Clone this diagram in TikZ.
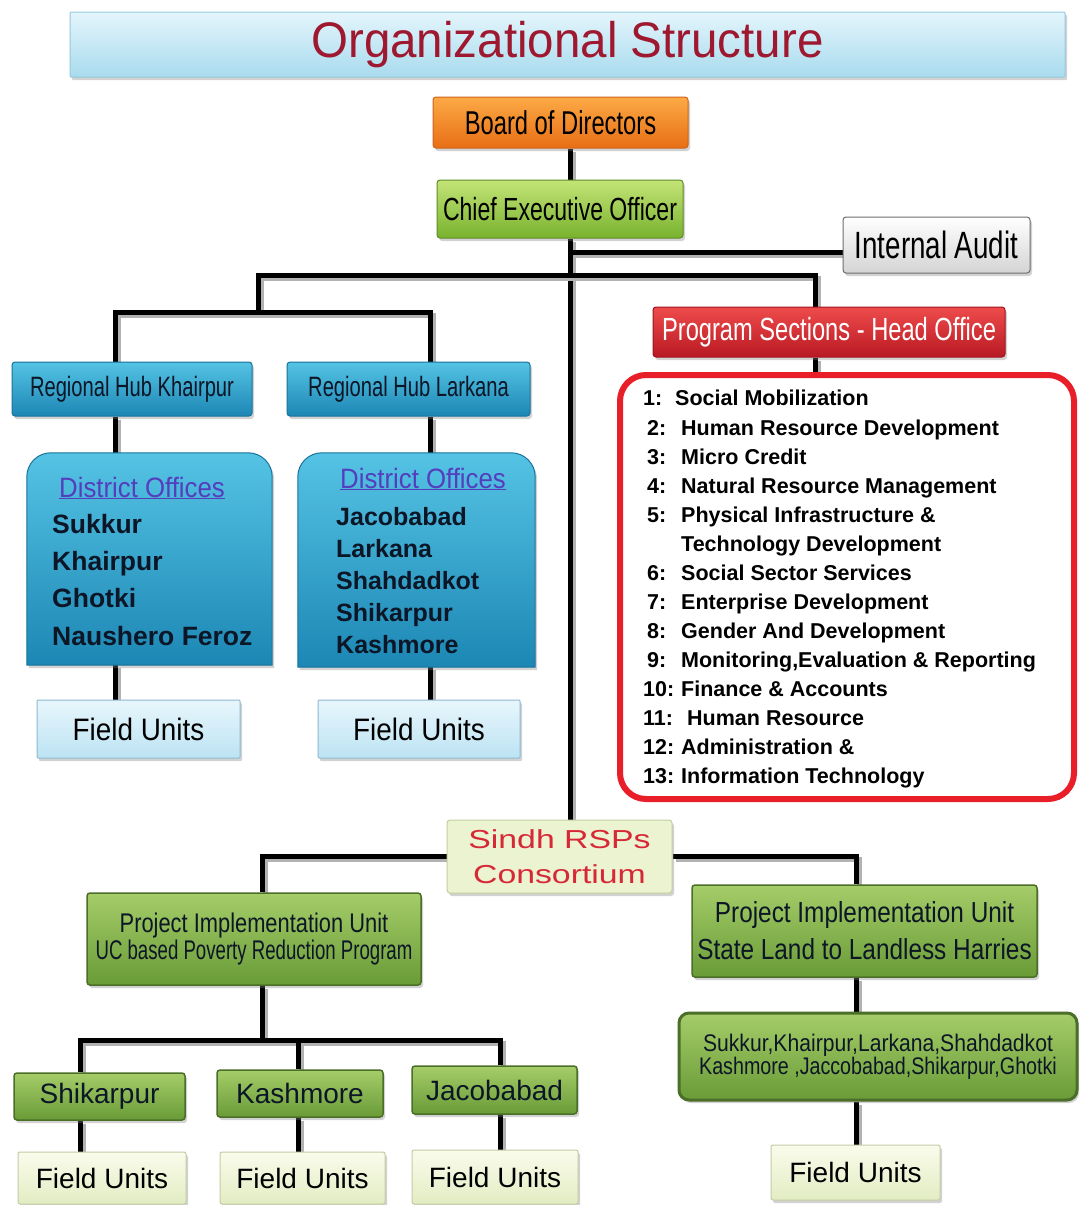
\documentclass[tikz,border=0pt]{standalone}
\usepackage{fontspec}
\setmainfont{Liberation Sans}
\usetikzlibrary{shadows,calc,backgrounds}
\newcommand\cf[3]{\fontspec[FakeStretch=#1]{Liberation Sans}\fontsize{#2pt}{#3pt}\selectfont}
\definecolor{titleTop}{RGB}{228,245,252}
\definecolor{titleBot}{RGB}{168,219,238}
\definecolor{titleLine}{RGB}{150,200,222}
\definecolor{titleTxt}{RGB}{158,24,48}
\definecolor{orTop}{RGB}{252,170,70}
\definecolor{orBot}{RGB}{232,110,20}
\definecolor{orLine}{RGB}{205,100,30}
\definecolor{grTop}{RGB}{196,228,120}
\definecolor{grBot}{RGB}{120,178,45}
\definecolor{grLine}{RGB}{95,140,40}
\definecolor{olTop}{RGB}{165,205,105}
\definecolor{olBot}{RGB}{105,155,55}
\definecolor{olLine}{RGB}{75,110,40}
\definecolor{blTop}{RGB}{85,195,228}
\definecolor{blBot}{RGB}{28,135,180}
\definecolor{blLine}{RGB}{25,115,155}
\definecolor{fuTop}{RGB}{232,246,252}
\definecolor{fuBot}{RGB}{188,227,243}
\definecolor{fuLine}{RGB}{140,185,210}
\definecolor{fgTop}{RGB}{250,252,236}
\definecolor{fgBot}{RGB}{226,236,194}
\definecolor{fgLine}{RGB}{195,205,165}
\definecolor{rdTop}{RGB}{238,75,75}
\definecolor{rdBot}{RGB}{185,25,35}
\definecolor{rdLine}{RGB}{160,20,30}
\definecolor{frameRed}{RGB}{232,30,40}
\definecolor{iaBot}{RGB}{212,212,212}
\definecolor{iaLine}{RGB}{110,110,110}
\definecolor{doTxt}{RGB}{85,62,190}
\definecolor{sinTxt}{RGB}{215,40,55}
\definecolor{sinFill}{RGB}{236,243,208}
\definecolor{sinLine}{RGB}{196,206,160}
\definecolor{navy}{RGB}{12,22,38}
\begin{document}
\begin{tikzpicture}[x=1pt,y=-1pt,
  box/.style={rectangle, inner sep=0pt, align=center, line width=1pt, rounded corners=3pt,
    drop shadow={shadow xshift=2pt, shadow yshift=-3pt, opacity=0.35}},
  sz/.style 2 args={minimum width=#1pt, minimum height=#2pt},
  titlebox/.style={box, top color=titleTop, bottom color=titleBot, draw=titleLine, rounded corners=1pt},
  orbox/.style={box, top color=orTop, bottom color=orBot, draw=orLine},
  grbox/.style={box, top color=grTop, bottom color=grBot, draw=grLine},
  olbox/.style={box, top color=olTop, bottom color=olBot, draw=olLine, line width=1.5pt},
  blbox/.style={box, top color=blTop, bottom color=blBot, draw=blLine},
  iabox/.style={box, top color=white, bottom color=iaBot, draw=iaLine},
  rdbox/.style={box, top color=rdTop, bottom color=rdBot, draw=rdLine, text=white},
  fubox/.style={box, top color=fuTop, bottom color=fuBot, draw=fuLine, rounded corners=1pt},
  fgbox/.style={box, top color=fgTop, bottom color=fgBot, draw=fgLine, rounded corners=2pt},
  distbox/.style={top color=blTop, bottom color=blBot, draw=blLine, line width=1pt,
    drop shadow={shadow xshift=2pt, shadow yshift=-3pt, opacity=0.35}},
  listtxt/.style={anchor=base west, inner sep=0pt, font=\cf{1}{21.5}{29}\bfseries, text=black},
  dname/.style={anchor=base west, inner sep=0pt, text=navy},
  conn/.style={line width=5pt, draw=black,
    preaction={draw=black!30, line width=5pt, transform canvas={xshift=3pt, yshift=-3pt}}}
]
\useasboundingbox (0,0) rectangle (1080,1205);

% ---------- nodes ----------
\node[titlebox, sz={995}{65}, text=titleTxt] (title) at (567.5,44.5) {\cf{0.95}{50}{56}Organizational Structure};

\node[orbox, sz={255}{51}] (bod) at (560.5,122.5) {\cf{0.72}{33}{38}Board of Directors};
\node[grbox, sz={246}{58}] (ceo) at (560,209) {\cf{0.72}{32}{38}Chief Executive Officer};
\node[iabox, sz={187}{56}] (ia) at (936.5,245) {\cf{0.73}{38}{42}Internal Audit};

\node[blbox, sz={240}{54}, text=navy] (rhk) at (132,389) {\cf{0.72}{28}{32}Regional Hub Khairpur};
\node[blbox, sz={243}{54}, text=navy] (rhl) at (408.5,389) {\cf{0.72}{28}{32}Regional Hub Larkana};

% district boxes (rounded top corners only)
\node[inner sep=0pt, sz={245}{212}] (dk) at (149.5,559) {};
\node[inner sep=0pt, sz={237}{214}] (dl) at (416.5,560) {};
\path[distbox]
  (dk.south west) [rounded corners=24pt] -- (dk.north west) -- (dk.north east) [sharp corners] -- (dk.south east) -- cycle;
\path[distbox]
  (dl.south west) [rounded corners=24pt] -- (dl.north west) -- (dl.north east) [sharp corners] -- (dl.south east) -- cycle;

\node[anchor=base, inner sep=0pt, text=doTxt] (dkh) at (142,497) {\cf{0.92}{28}{32}\underline{District Offices}};
\node[dname, font=\cf{1}{26.5}{32}\bfseries] (dk1) at (52,533) {Sukkur};
\node[dname, font=\cf{1}{26.5}{32}\bfseries] (dk2) at (52,570) {Khairpur};
\node[dname, font=\cf{1}{26.5}{32}\bfseries] (dk3) at (52,607) {Ghotki};
\node[dname, font=\cf{1}{26.5}{32}\bfseries] (dk4) at (52,645) {Naushero Feroz};

\node[anchor=base, inner sep=0pt, text=doTxt] (dlh) at (423,488) {\cf{0.92}{28}{32}\underline{District Offices}};
\node[dname, font=\cf{1}{25}{30}\bfseries] (dl1) at (336,525) {Jacobabad};
\node[dname, font=\cf{1}{25}{30}\bfseries] (dl2) at (336,557) {Larkana};
\node[dname, font=\cf{1}{25}{30}\bfseries] (dl3) at (336,589) {Shahdadkot};
\node[dname, font=\cf{1}{25}{30}\bfseries] (dl4) at (336,621) {Shikarpur};
\node[dname, font=\cf{1}{25}{30}\bfseries] (dl5) at (336,653) {Kashmore};

\node[fubox, sz={203}{58}] (fk) at (138.5,729) {\cf{0.9}{31}{36}Field Units};
\node[fubox, sz={202}{58}] (fl) at (419,729) {\cf{0.9}{31}{36}Field Units};

\node[rdbox, sz={352}{50}] (psh) at (829,332) {\cf{0.74}{32}{36}Program Sections - Head Office};
\node[draw=frameRed, line width=6pt, rounded corners=26pt, fill=white, inner sep=0pt,
  minimum width=454pt, minimum height=424pt] (plist) at (847,587) {};

\node[listtxt] (li1) at (643,405) {\makebox[32pt][l]{1:}Social Mobilization};
\node[listtxt] (li2) at (647,435) {\makebox[34pt][l]{2:}Human Resource Development};
\node[listtxt] (li3) at (647,464) {\makebox[34pt][l]{3:}Micro Credit};
\node[listtxt] (li4) at (647,493) {\makebox[34pt][l]{4:}Natural Resource Management};
\node[listtxt] (li5) at (647,522) {\makebox[34pt][l]{5:}Physical Infrastructure \&};
\node[listtxt] (li5b) at (681,551) {Technology Development};
\node[listtxt] (li6) at (647,580) {\makebox[34pt][l]{6:}Social Sector Services};
\node[listtxt] (li7) at (647,609) {\makebox[34pt][l]{7:}Enterprise Development};
\node[listtxt] (li8) at (647,638) {\makebox[34pt][l]{8:}Gender And Development};
\node[listtxt] (li9) at (647,667) {\makebox[34pt][l]{9:}Monitoring,Evaluation \& Reporting};
\node[listtxt] (li10) at (643,696) {\makebox[38pt][l]{10:}Finance \& Accounts};
\node[listtxt] (li11) at (643,725) {\makebox[44pt][l]{11:}Human Resource};
\node[listtxt] (li12) at (643,754) {\makebox[38pt][l]{12:}Administration \&};
\node[listtxt] (li13) at (643,783) {\makebox[38pt][l]{13:}Information Technology};

\node[box, sz={225}{73}, fill=sinFill, draw=sinLine, text=sinTxt, font=\cf{1.3}{26}{35}] (srsp) at (559.5,856.5)
  {Sindh RSPs\\Consortium};

\node[olbox, sz={334}{92}, text=navy] (piu1) at (254,939)
  {\cf{0.81}{27}{35}Project Implementation Unit\\\cf{0.69}{27}{35}UC based Poverty Reduction Program};
\node[olbox, sz={345}{92}, text=navy, font=\cf{0.84}{29}{37}] (piu2) at (864.5,931)
  {Project Implementation Unit\\State Land to Landless Harries};

\node[olbox, sz={171}{47}, text=navy] (shik) at (99.5,1096.5) {\cf{1}{28}{32}Shikarpur};
\node[olbox, sz={166}{47}, text=navy] (kash) at (300,1093.5) {\cf{1}{28}{32}Kashmore};
\node[olbox, sz={165}{48}, text=navy] (jaco) at (494.5,1090) {\cf{1}{28}{32}Jacobabad};

\node[olbox, sz={398}{87}, line width=3pt, rounded corners=10pt, text=navy] (dist2) at (878,1056.5)
  {\cf{0.88}{24}{27}Sukkur,Khairpur,Larkana,Shahdadkot\\\cf{0.82}{24}{27}Kashmore ,Jaccobabad,Shikarpur,Ghotki};

\node[fgbox, sz={168}{52}] (fu1) at (102,1178) {\cf{1}{28}{32}Field Units};
\node[fgbox, sz={165}{52}] (fu2) at (302.5,1178) {\cf{1}{28}{32}Field Units};
\node[fgbox, sz={166}{54}] (fu3) at (495,1177) {\cf{1}{28}{32}Field Units};
\node[fgbox, sz={169}{55}] (fu4) at (855.5,1172.5) {\cf{1}{28}{32}Field Units};

% ---------- connector coordinates ----------
\coordinate (sp) at (570,0);
\coordinate (cK) at (115,0);
\coordinate (cL) at (430,0);
\coordinate (cP) at (815,0);
\coordinate (j0) at (258,275);
\coordinate (j1) at (258,312);
\coordinate (cPa) at (262,0);
\coordinate (cPb) at (856,0);
\coordinate (j2) at (262,1040);
\coordinate (c80) at (80,0);
\coordinate (c298) at (298,0);
\coordinate (c500) at (500,0);

\begin{pgfonlayer}{background}
\fill[white] (0,0) rectangle (1080,1205);
\draw[conn] (bod.south -| sp) -- (ceo.north -| sp);
\draw[conn] (ceo.south -| sp) -- (srsp.north -| sp);
\draw[conn] ($(ia.west)+(0,7)$) -- ($(ia.west -| sp)+(0,7)$);
\draw[conn] (j1) -- (j0) -| (psh.north -| cP);
\draw[conn] (rhk.north -| cK) -- (cK |- j1) -- (cL |- j1) -- (rhl.north -| cL);
\draw[conn] (psh.south -| cP) -- (plist.north -| cP);
\draw[conn] (rhk.south -| cK) -- (dk.north -| cK);
\draw[conn] (rhl.south -| cL) -- (dl.north -| cL);
\draw[conn] (dk.south -| cK) -- (fk.north -| cK);
\draw[conn] (dl.south -| cL) -- (fl.north -| cL);
\draw[conn] (srsp.west) -| (piu1.north -| cPa);
\draw[conn] (srsp.east) -| (piu2.north -| cPb);
\draw[conn] (piu1.south -| cPa) -- (j2);
\draw[conn] (shik.north -| c80) -- (c80 |- j2) -- (c500 |- j2) -- (jaco.north -| c500);
\draw[conn] (kash.north -| c298) -- (c298 |- j2);
\draw[conn] (shik.south -| c80) -- (fu1.north -| c80);
\draw[conn] (kash.south -| c298) -- (fu2.north -| c298);
\draw[conn] (jaco.south -| c500) -- (fu3.north -| c500);
\draw[conn] (piu2.south -| cPb) -- (dist2.north -| cPb);
\draw[conn] (dist2.south -| cPb) -- (fu4.north -| cPb);
\end{pgfonlayer}
\end{tikzpicture}
\end{document}
